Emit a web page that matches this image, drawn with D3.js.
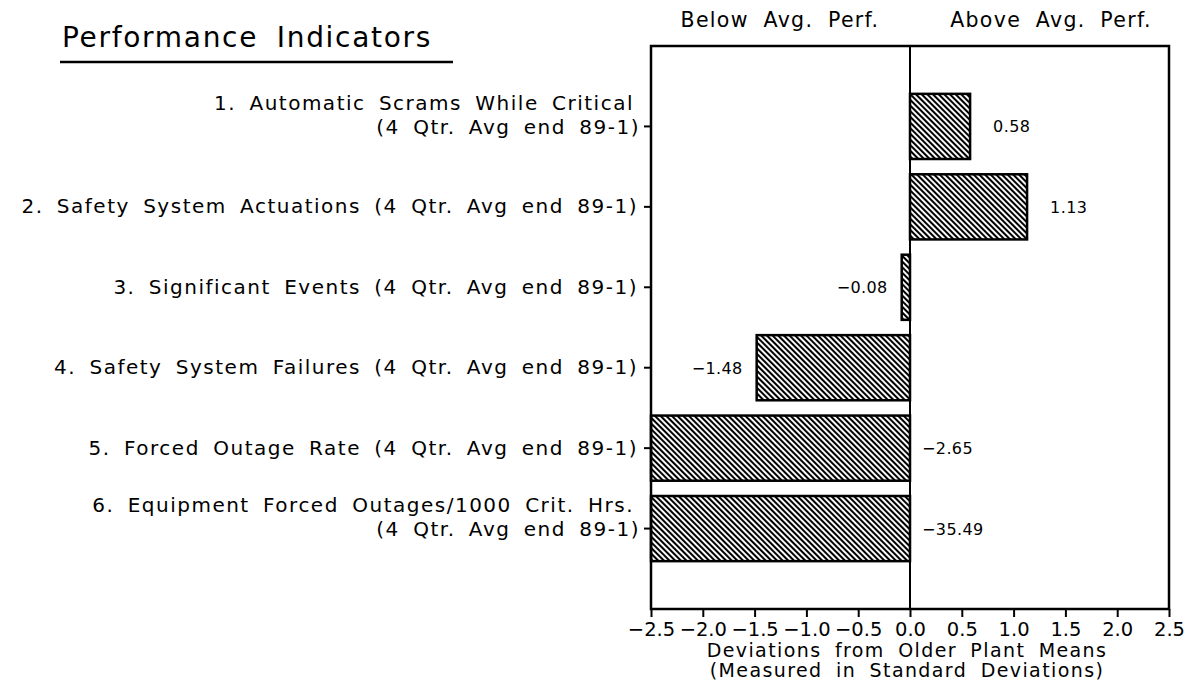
<!DOCTYPE html>
<html>
<head>
<meta charset="utf-8">
<script src="https://cdn.jsdelivr.net/npm/d3@7"></script>
<style>
  body { margin: 0; background: #fff; }
  svg { display: block; }
  text { font-family: "DejaVu Sans", sans-serif; fill: #000; }
</style>
</head>
<body>
<svg id="chart" width="1193" height="690"></svg>
<script>
// ---- data ----
const categories = [
  "1. Automatic Scrams While Critical|(4 Qtr. Avg end 89-1)",
  "2. Safety System Actuations (4 Qtr. Avg end 89-1)",
  "3. Significant Events (4 Qtr. Avg end 89-1)",
  "4. Safety System Failures (4 Qtr. Avg end 89-1)",
  "5. Forced Outage Rate (4 Qtr. Avg end 89-1)",
  "6. Equipment Forced Outages/1000 Crit. Hrs.|(4 Qtr. Avg end 89-1)"
];
const values = [0.58, 1.13, -0.08, -1.48, -2.65, -35.49];
const xTicks = [-2.5, -2.0, -1.5, -1.0, -0.5, 0.0, 0.5, 1.0, 1.5, 2.0, 2.5];
const xDomain = [-2.5, 2.5];
const title = "Performance Indicators";
const headerLeft = "Below Avg. Perf.";
const headerRight = "Above Avg. Perf.";
const xTitle = ["Deviations from Older Plant Means", "(Measured in Standard Deviations)"];

// ---- layout ----
const frame = { left: 651, right: 1169, top: 46, bottom: 609 };
const svg = d3.select("#chart");

const x = d3.scaleLinear().domain(xDomain).range([frame.left, frame.right]);
const y = d3.scaleBand().domain(categories)
  .range([frame.top, frame.bottom])
  .paddingInner(0.19).paddingOuter(0.595);

// hatch pattern
const defs = svg.append("defs");
const pat = defs.append("pattern")
  .attr("id", "hatch").attr("patternUnits", "userSpaceOnUse")
  .attr("width", 4).attr("height", 4)
  .attr("patternTransform", "rotate(-45)");
pat.append("rect").attr("width", 4).attr("height", 4).attr("fill", "#fff");
pat.append("line").attr("x1", 1).attr("y1", 0).attr("x2", 1).attr("y2", 4)
  .attr("stroke", "#000").attr("stroke-width", 2.1);

// title
svg.append("text").attr("x", 62).attr("y", 47)
  .attr("font-size", 28).attr("letter-spacing", 1.7).attr("word-spacing", 8)
  .text(title);
svg.append("line").attr("x1", 60).attr("x2", 453).attr("y1", 62).attr("y2", 62)
  .attr("stroke", "#000").attr("stroke-width", 2.5);

// header
const hdr = (txt, cx) => svg.append("text").attr("x", cx).attr("y", 27)
  .attr("text-anchor", "middle").attr("font-size", 20.5)
  .attr("letter-spacing", 1.3).attr("word-spacing", 7).text(txt);
hdr(headerLeft, 780);
hdr(headerRight, 1051);

// bars
const clamp = v => Math.max(xDomain[0], Math.min(xDomain[1], v));
svg.append("g").selectAll("rect").data(categories).join("rect")
  .attr("x", (d, i) => x(Math.min(0, clamp(values[i]))))
  .attr("width", (d, i) => Math.abs(x(clamp(values[i])) - x(0)))
  .attr("y", d => y(d))
  .attr("height", y.bandwidth())
  .attr("fill", "url(#hatch)")
  .attr("stroke", "#000").attr("stroke-width", 2.5);

// frame
svg.append("rect").attr("x", frame.left).attr("y", frame.top)
  .attr("width", frame.right - frame.left).attr("height", frame.bottom - frame.top)
  .attr("fill", "none").attr("stroke", "#000").attr("stroke-width", 2.5);

// zero line
svg.append("line").attr("x1", x(0)).attr("x2", x(0))
  .attr("y1", frame.top).attr("y2", frame.bottom)
  .attr("stroke", "#000").attr("stroke-width", 2);

// value labels
svg.append("g").selectAll("text").data(categories).join("text")
  .attr("x", (d, i) => {
    const v = values[i];
    if (v >= 0) return x(v) + 23;
    if (v < xDomain[0]) return x(0) + 12;
    return x(v) - 14;
  })
  .attr("text-anchor", (d, i) => (values[i] >= 0 || values[i] < xDomain[0]) ? "start" : "end")
  .attr("y", d => y(d) + y.bandwidth() / 2 + 6)
  .attr("font-size", 16).attr("letter-spacing", 0.4)
  .text((d, i) => d3.format(".2f")(values[i]));

// y axis
const yAxis = d3.axisLeft(y).tickSize(7).tickPadding(5);
const gy = svg.append("g").attr("transform", `translate(${frame.left},0)`).call(yAxis);
gy.select(".domain").remove();
gy.selectAll(".tick line").attr("stroke-width", 2);
gy.selectAll(".tick text")
  .attr("font-family", "DejaVu Sans").attr("font-size", 20).attr("fill", "#000")
  .attr("letter-spacing", 1.5).attr("word-spacing", 5.5)
  .each(function(d) {
    const lines = d.split("|");
    const t = d3.select(this);
    t.text(null);
    if (lines.length === 1) {
      t.append("tspan").attr("x", -13).attr("dy", "0.32em").text(lines[0]);
    } else {
      t.append("tspan").attr("x", -17).attr("dy", "-0.82em").text(lines[0]);
      t.append("tspan").attr("x", -11).attr("dy", "1.18em").text(lines[1]);
    }
  });

// x axis
const xAxis = d3.axisBottom(x).tickValues(xTicks).tickFormat(d3.format(".1f"))
  .tickSize(8).tickPadding(5);
const gx = svg.append("g").attr("transform", `translate(0,${frame.bottom})`).call(xAxis);
gx.select(".domain").remove();
gx.selectAll(".tick line").attr("stroke-width", 2);
gx.selectAll(".tick text").attr("font-family", "DejaVu Sans").attr("font-size", 19.5)
  .attr("fill", "#000");

// x axis title
svg.append("g").selectAll("text").data(xTitle).join("text")
  .attr("x", x(0) - 3).attr("y", (d, i) => 657 + i * 20)
  .attr("text-anchor", "middle").attr("font-size", 19)
  .attr("letter-spacing", 1.4).attr("word-spacing", 6)
  .text(d => d);
</script>
</body>
</html>
